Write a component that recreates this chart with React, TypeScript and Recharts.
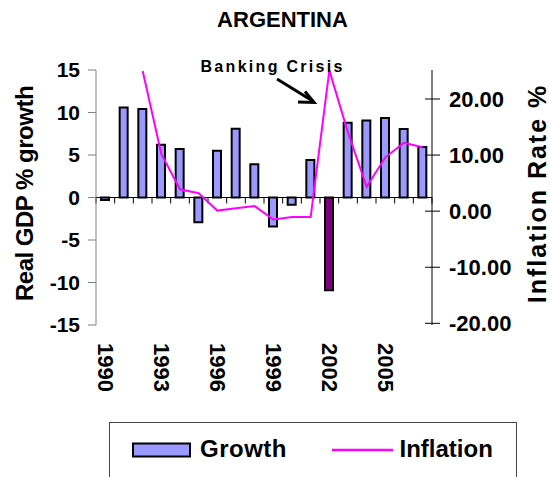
import React from 'react';
import { ComposedChart, Bar, Line, XAxis, YAxis, ReferenceLine, Cell, Label } from 'recharts';

const years = ['1990', '1991', '1992', '1993', '1994', '1995', '1996', '1997', '1998', '1999', '2000', '2001', '2002', '2003', '2004', '2005', '2006', '2007'];
const growth = [-0.3, 10.6, 10.4, 6.2, 5.7, -2.9, 5.5, 8.1, 3.9, -3.4, -0.85, 4.4, -10.9, 8.8, 9.05, 9.35, 8.05, 5.95];
const inflation: (number | null)[] = [null, null, 25.0, 10.2, 3.9, 3.2, 0.1, 0.5, 0.9, -1.5, -1.05, -1.05, 25.1, 14.0, 4.35, 9.6, 12.2, 11.4];
const crisisYear = '2002';
const growthTicks = [-15, -10, -5, 0, 5, 10, 15];
const inflationTicks = [-20, -10, 0, 10, 20];

const data = years.map((y, i) => ({ year: y, growth: growth[i], inflation: inflation[i] }));

const FONT = '"Liberation Sans", Arial, Helvetica, sans-serif';

const YearTick = (props: any) => {
  const { x, y, payload } = props;
  return (
    <text
      x={x}
      y={y}
      transform={`rotate(90, ${x}, ${y})`}
      textAnchor="start"
      dominantBaseline="central"
      fontFamily={FONT}
      fontWeight="bold"
      fontSize={22}
      fill="#000"
    >
      {payload.value}
    </text>
  );
};

const RIGHT_TICK_SIZE = 8;
const RIGHT_TICK_MARGIN = 9;
const RightTick = (props: any) => {
  const { x, y, payload } = props;
  const axisX = x - RIGHT_TICK_SIZE - RIGHT_TICK_MARGIN;
  return (
    <g>
      <line x1={axisX - 7} x2={axisX + 8} y1={y} y2={y} stroke="#000" strokeWidth={1} />
      <text x={x} y={y} dy="0.36em" textAnchor="start" fontFamily={FONT} fontWeight="bold" fontSize={22} fill="#000">
        {Number(payload.value).toFixed(2)}
      </text>
    </g>
  );
};

const ZeroAxis = (props: any) => {
  const { x1, y1, x2, y2 } = props;
  const n = years.length;
  const step = (x2 - x1) / n;
  const marks = Array.from({ length: n + 1 }, (_, i) => x1 + step * i);
  return (
    <g>
      <line x1={x1} y1={y1} x2={x2} y2={y2} stroke="#000" strokeWidth={1} />
      {marks.map((t, i) => (
        <line key={i} x1={t} x2={t} y1={y1} y2={y1 + 6} stroke="#000" strokeWidth={1} />
      ))}
    </g>
  );
};

const LeftTitle = (props: any) => {
  const { viewBox } = props;
  const cx = viewBox.x + 24;
  const cy = viewBox.y + viewBox.height / 2 - 4;
  return (
    <text
      x={cx}
      y={cy}
      transform={`rotate(-90, ${cx}, ${cy})`}
      textAnchor="middle"
      dominantBaseline="central"
      fontFamily={FONT}
      fontWeight="bold"
      fontSize={24}
      letterSpacing={-0.5}
      fill="#000"
    >
      Real GDP % growth
    </text>
  );
};

const RightTitle = (props: any) => {
  const { viewBox } = props;
  const cx = viewBox.x + viewBox.width - 13;
  const cy = viewBox.y + viewBox.height / 2 - 4;
  return (
    <text
      x={cx}
      y={cy}
      transform={`rotate(-90, ${cx}, ${cy})`}
      textAnchor="middle"
      dominantBaseline="central"
      fontFamily={FONT}
      fontWeight="bold"
      fontSize={25}
      letterSpacing={2}
      fill="#000"
    >
      Inflation Rate %
    </text>
  );
};

export default function App() {
  return (
    <div style={{ position: 'absolute', left: 0, top: 0, width: 550, height: 477, background: '#fff', overflow: 'hidden' }}>
      <ComposedChart
        width={550}
        height={477}
        data={data}
        margin={{ top: 70, right: 0, bottom: 52, left: 0 }}
        barCategoryGap={0}
      >
        <XAxis
          dataKey="year"
          interval={2}
          axisLine={false}
          tickLine={false}
          tickSize={6}
          tickMargin={12}
          height={100}
          tick={<YearTick />}
        />
        <YAxis
          yAxisId="left"
          domain={[-15, 15]}
          ticks={growthTicks}
          allowDataOverflow
          width={96}
          axisLine={{ stroke: '#808080', strokeWidth: 1 }}
          tickLine={{ stroke: '#808080', strokeWidth: 1 }}
          tickSize={8}
          tickMargin={8}
          tick={{ fontFamily: FONT, fontWeight: 'bold', fontSize: 21, fill: '#000' }}
        >
          <Label content={<LeftTitle />} />
        </YAxis>
        <YAxis
          yAxisId="right"
          orientation="right"
          domain={[-20.3, 25.17]}
          ticks={inflationTicks}
          allowDataOverflow
          width={118}
          axisLine={{ stroke: '#000', strokeWidth: 1 }}
          tickLine={false}
          tickSize={RIGHT_TICK_SIZE}
          tickMargin={RIGHT_TICK_MARGIN}
          tick={<RightTick />}
        >
          <Label content={<RightTitle />} />
        </YAxis>
        <Bar
          dataKey="growth"
          yAxisId="left"
          barSize={8}
          fill="#9999FF"
          stroke="#000"
          strokeWidth={2}
          isAnimationActive={false}
        >
          {data.map((d) => (
            <Cell key={d.year} fill={d.year === crisisYear ? '#800080' : '#9999FF'} />
          ))}
        </Bar>
        <ReferenceLine y={0} yAxisId="left" shape={<ZeroAxis />} />
        <Line
          dataKey="inflation"
          yAxisId="right"
          type="linear"
          stroke="#FF00FF"
          strokeWidth={2}
          dot={false}
          activeDot={false}
          isAnimationActive={false}
        />
      </ComposedChart>
      <svg width={550} height={477} style={{ position: 'absolute', left: 0, top: 0, pointerEvents: 'none' }}>
        <text x={282.5} y={26.5} textAnchor="middle" fontFamily={FONT} fontWeight="bold" fontSize={22} fill="#000">
          ARGENTINA
        </text>
        <text x={200.5} y={71.5} fontFamily={FONT} fontWeight="bold" fontSize={16} letterSpacing={2.3} fill="#000">
          Banking Crisis
        </text>
        <line x1={277} y1={79} x2={313.5} y2={101.5} stroke="#000" strokeWidth={3} />
        <polyline points="305,91.5 314,102.5 298,102" fill="none" stroke="#000" strokeWidth={3} />
        <rect x={109.5} y={422.5} width={407} height={80} fill="none" stroke="#444" strokeWidth={1} />
        <rect x={133} y={443.5} width={57} height={13} fill="#9999FF" stroke="#000" strokeWidth={2} />
        <text x={200} y={456.5} fontFamily={FONT} fontWeight="bold" fontSize={24} letterSpacing={0.5} fill="#000">
          Growth
        </text>
        <line x1={332} x2={393} y1={450} y2={450} stroke="#FF00FF" strokeWidth={2.5} />
        <text x={399.5} y={456.5} fontFamily={FONT} fontWeight="bold" fontSize={24} fill="#000">
          Inflation
        </text>
      </svg>
    </div>
  );
}
